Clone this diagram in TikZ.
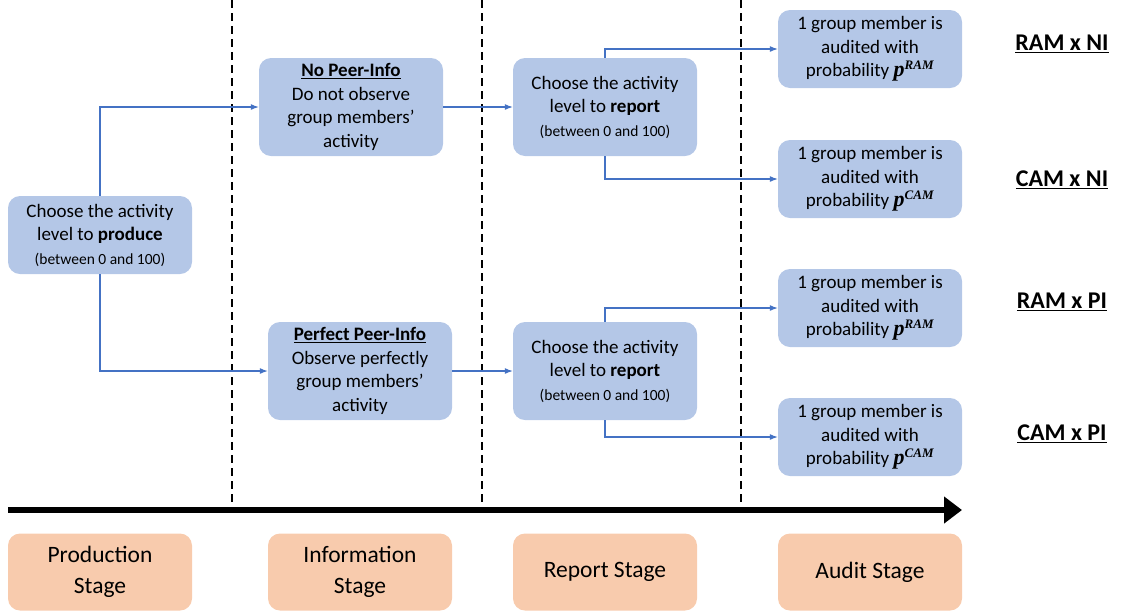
\documentclass[tikz,border=0pt]{standalone}
\usepackage{fontspec}
\setmainfont{Carlito}
\newfontfamily\probfont{Liberation Serif}
\usepackage{tikz}
\usetikzlibrary{arrows.meta}
\definecolor{boxblue}{HTML}{B4C7E7}
\definecolor{lineblue}{HTML}{4472C4}
\definecolor{stagepeach}{HTML}{F8CBAD}
\tikzset{
    choice/.style={rectangle,rounded corners=12pt,fill=boxblue,draw=none,minimum width=184pt,minimum height=78pt,align=center,inner sep=2pt,font=\fontsize{19}{23.5}\selectfont},
    tall/.style={minimum height=98pt},
    stagebox/.style={rectangle,rounded corners=12pt,fill=stagepeach,draw=none,minimum width=184pt,minimum height=77pt,align=center,font=\fontsize{23.5}{31}\selectfont},
    treatment/.style={font=\fontsize{24}{28}\selectfont\bfseries},
    directed/.style={draw=lineblue,line width=1.1pt,-{Latex[length=8pt,width=6pt]}},
    divider/.style={black,line width=1.6pt,dash pattern=on 8pt off 5pt},
    timeline/.style={black,line width=6pt,-{Triangle[length=18pt,width=26pt]}},
}
\newcommand{\rangetext}{\fontsize{15.5}{19}\selectfont}
\newcommand{\auditprob}[1]{{\probfont\bfseries\itshape\fontsize{22}{23.5}\selectfont p\textsuperscript{\fontsize{13}{14}\selectfont #1}}}
\begin{document}
\begin{tikzpicture}[x=1pt,y=-1pt]
	\useasboundingbox (0,0) rectangle (1124,614);

	% stage dividers and time line
	\coordinate (d1t) at (232,0);   \coordinate (d1b) at (232,507);
	\coordinate (d2t) at (482,0);   \coordinate (d2b) at (482,507);
	\coordinate (d3t) at (741,0);   \coordinate (d3b) at (741,507);
	\draw[divider] (d1t) -- (d1b);
	\draw[divider] (d2t) -- (d2b);
	\draw[divider] (d3t) -- (d3b);
	\coordinate (tl0) at (8,510);
	\coordinate (tl1) at (962,510);
	\draw[timeline] (tl0) -- (tl1);

	% decision boxes
	\node[choice] (prod) at (100,235) {Choose the activity\\level to \textbf{produce}\\{\rangetext (between 0 and 100)}};
	\node[choice,tall] (nopeer) at (351,107) {\underline{\textbf{No Peer-Info}}\\Do not observe\\group members’\\activity};
	\node[choice,tall] (perfpeer) at (360,371) {\underline{\textbf{Perfect Peer-Info}}\\Observe perfectly\\group members’\\activity};
	\node[choice,tall] (reptop) at (605,107) {Choose the activity\\level to \textbf{report}\\{\rangetext (between 0 and 100)}};
	\node[choice,tall] (repbot) at (605,371) {Choose the activity\\level to \textbf{report}\\{\rangetext (between 0 and 100)}};

	% audit boxes
	\node[choice] (audA) at (870,49) {1 group member is\\audited with\\probability \auditprob{RAM}};
	\node[choice] (audB) at (870,179) {1 group member is\\audited with\\probability \auditprob{CAM}};
	\node[choice] (audC) at (870,308) {1 group member is\\audited with\\probability \auditprob{RAM}};
	\node[choice] (audD) at (870,437) {1 group member is\\audited with\\probability \auditprob{CAM}};

	% treatment labels
	\node[treatment] (tA) at (1062,44) {\underline{RAM x NI}};
	\node[treatment] (tB) at (1062,180) {\underline{CAM x NI}};
	\node[treatment] (tC) at (1062,302) {\underline{RAM x PI}};
	\node[treatment] (tD) at (1062,434) {\underline{CAM x PI}};

	% stage boxes
	\node[stagebox] (sProd) at (100,572) {Production\\Stage};
	\node[stagebox] (sInfo) at (360,572) {Information\\Stage};
	\node[stagebox] (sRep) at (605,572) {Report Stage};
	\node[stagebox] (sAud) at (870,572) {Audit Stage};

	% connectors
	\draw[directed] (prod.north) |- (nopeer.west);
	\draw[directed] (prod.south) |- (perfpeer.west);
	\draw[directed] (nopeer.east) -- (reptop.west);
	\draw[directed] (perfpeer.east) -- (repbot.west);
	\draw[directed] (reptop.north) |- (audA.west);
	\draw[directed] (reptop.south) |- (audB.west);
	\draw[directed] (repbot.north) |- (audC.west);
	\draw[directed] (repbot.south) |- (audD.west);
\end{tikzpicture}
\end{document}
